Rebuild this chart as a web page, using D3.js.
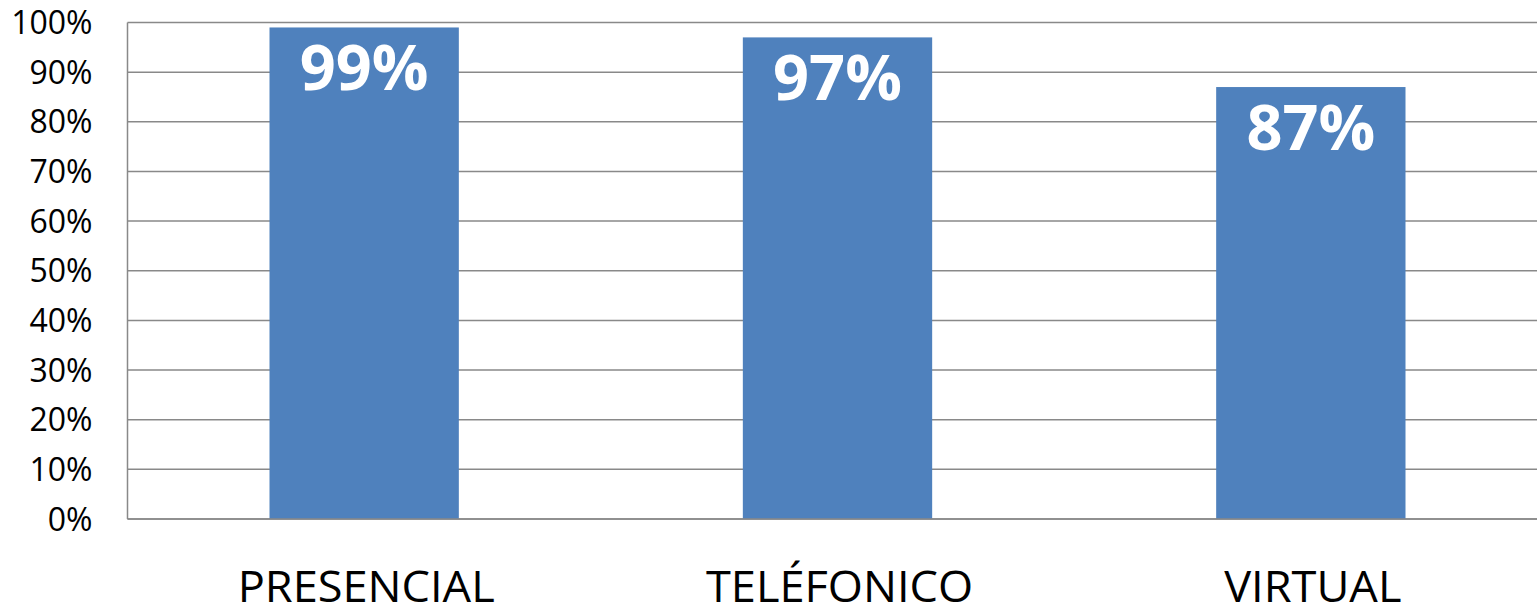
<!DOCTYPE html>
<html>
<head>
<meta charset="utf-8">
<script src="https://cdn.jsdelivr.net/npm/d3@7"></script>
<style>
  html, body { margin: 0; padding: 0; background: #ffffff; overflow: hidden; }
  svg { display: block; }
</style>
</head>
<body>
<svg id="chart" width="1537" height="607"></svg>
<script>
// Channel names and share of satisfied users per channel
const categories = ["PRESENCIAL", "TELÉFONICO", "VIRTUAL"];
const values = [0.99, 0.97, 0.87];
const valueLabels = ["99%", "97%", "87%"];
const yTicks = [0, 0.1, 0.2, 0.3, 0.4, 0.5, 0.6, 0.7, 0.8, 0.9, 1.0];
const yTickLabels = ["0%", "10%", "20%", "30%", "40%", "50%", "60%", "70%", "80%", "90%", "100%"];

const svg = d3.select("#chart");
const fontFamily = "'Open Sans', Carlito, Calibri, sans-serif";

const plot = { left: 127.5, top: 22.5, bottom: 519, width: 1420 };

const x = d3.scaleBand()
  .domain(categories)
  .range([plot.left, plot.left + plot.width])
  .paddingInner(0.6)
  .paddingOuter(0.3);

const y = d3.scaleLinear()
  .domain([0, 1])
  .range([plot.bottom, plot.top]);

const gridColor = "#898989";

// Horizontal gridlines
svg.append("g")
  .selectAll("line")
  .data(yTicks)
  .join("line")
  .attr("x1", plot.left)
  .attr("x2", plot.left + plot.width)
  .attr("y1", d => y(d))
  .attr("y2", d => y(d))
  .attr("stroke", gridColor)
  .attr("stroke-width", 1.5);

// Vertical axis line
svg.append("line")
  .attr("x1", plot.left).attr("x2", plot.left)
  .attr("y1", y(1)).attr("y2", y(0))
  .attr("stroke", gridColor)
  .attr("stroke-width", 1.5);

// Y tick labels
svg.append("g")
  .selectAll("text")
  .data(yTicks)
  .join("text")
  .attr("x", plot.left - 35)
  .attr("y", d => y(d))
  .attr("dy", "0.36em")
  .attr("text-anchor", "end")
  .attr("font-family", fontFamily)
  .attr("font-size", 32)
  .attr("fill", "#000")
  .text((d, i) => yTickLabels[i]);

// Bars
svg.append("g")
  .selectAll("rect")
  .data(categories)
  .join("rect")
  .attr("x", d => x(d))
  .attr("width", x.bandwidth())
  .attr("y", (d, i) => y(values[i]))
  .attr("height", (d, i) => y(0) - y(values[i]))
  .attr("fill", "#4F81BD");

// Redraw baseline over bars
svg.append("line")
  .attr("x1", plot.left).attr("x2", plot.left + plot.width)
  .attr("y1", y(0)).attr("y2", y(0))
  .attr("stroke", gridColor)
  .attr("stroke-width", 1.5);

// Value labels inside bars
svg.append("g")
  .selectAll("text")
  .data(categories)
  .join("text")
  .attr("x", d => x(d) + x.bandwidth() / 2)
  .attr("y", (d, i) => y(values[i]) + 62.5)
  .attr("text-anchor", "middle")
  .attr("font-family", fontFamily)
  .attr("font-weight", "bold")
  .attr("font-size", 63)
  .attr("fill", "#ffffff")
  .text((d, i) => valueLabels[i]);

// Category labels
svg.append("g")
  .selectAll("text")
  .data(categories)
  .join("text")
  .attr("transform", d => `translate(${x(d) + x.bandwidth() / 2 + 2},602) scale(1.05,1)`)
  .attr("text-anchor", "middle")
  .attr("font-family", fontFamily)
  .attr("font-size", 43)
  .attr("fill", "#000")
  .text(d => d);
</script>
</body>
</html>
